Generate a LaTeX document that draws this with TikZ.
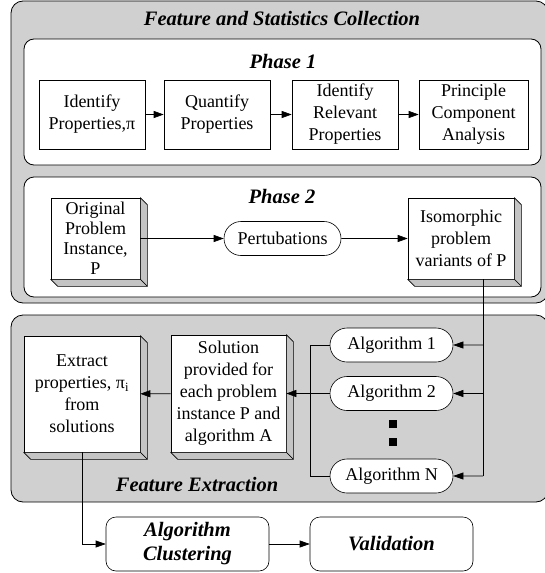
\documentclass[tikz,border=0pt]{standalone}
\usepackage{fontspec}
\setmainfont{Liberation Serif}
\usetikzlibrary{arrows.meta,shapes.misc}

\definecolor{panelgray}{RGB}{208,208,208}
\definecolor{facegray}{RGB}{196,196,196}
\newcommand{\bodyfont}{\fontsize{18}{22}\selectfont}
\newcommand{\headfont}{\fontsize{20.5}{24}\selectfont\bfseries\itshape}

\tikzset{
  panel/.style={draw,line width=0.8pt,fill=panelgray,rounded corners=12pt},
  phasebox/.style={draw,line width=0.8pt,fill=white,rounded corners=10pt},
  heading/.style={font=\headfont,inner sep=0pt},
  procbox/.style={draw,fill=white,line width=0.6pt,align=center,inner sep=0pt,font=\bodyfont},
  face/.style={draw,fill=facegray,line width=0.6pt,line join=round},
  pill/.style={draw,fill=white,line width=0.6pt,rounded rectangle,inner sep=0pt,font=\bodyfont,minimum height=34pt},
  stagebox/.style={draw,fill=white,line width=0.6pt,rounded corners=10pt,align=center,inner sep=0pt,font=\headfont,minimum width=163pt,minimum height=54pt},
  dot/.style={fill=black,inner sep=0pt,minimum size=8pt},
  flow/.style={-{Triangle[length=10pt,width=7pt]},line width=0.6pt},
}

\begin{document}
\begin{tikzpicture}[x=1pt,y=-1pt]
\useasboundingbox (0,0) rectangle (544,573);

\draw[panel] (11,1) rectangle (548,303);
\draw[panel] (11,315) rectangle (548,502);
\draw[phasebox] (24,39) rectangle (541,165);
\draw[phasebox] (24,177) rectangle (541,297);

\node[heading] (fsc) at (282,19) {Feature and Statistics Collection};
\node[heading] (ph1) at (283,61) {Phase 1};
\node[heading] (ph2) at (282,196) {Phase 2};
\node[heading] (fex) at (197,485) {Feature Extraction};

% phase 1
\node[procbox,minimum width=106pt,minimum height=69pt] (idp) at (92,114.5) {Identify\\Properties,π};
\node[procbox,minimum width=106pt,minimum height=69pt] (qp) at (217,114.5) {Quantify\\Properties};
\node[procbox,minimum width=106pt,minimum height=69pt] (irp) at (345,114.5) {Identify\\Relevant\\Properties};
\node[procbox,minimum width=109pt,minimum height=69pt] (pca) at (473.5,114.5) {Principle\\Component\\Analysis};

% phase 2
\node[procbox,minimum width=89pt,minimum height=81pt,font=\fontsize{18}{20}\selectfont] (orig) at (95.5,238.5) {Original\\Problem\\Instance,\\P};
\node[pill,minimum width=117pt] (pert) at (282.5,238.5) {Pertubations};
\node[procbox,minimum width=106pt,minimum height=81pt] (iso) at (461,238.5) {Isomorphic\\problem\\variants of P};

% feature extraction
\node[procbox,minimum width=116pt,minimum height=116pt] (extr) at (82,394) {Extract\\properties, π\textsubscript{i}\\from\\solutions};
\node[procbox,minimum width=115pt,minimum height=117pt] (soln) at (228.5,393.5) {Solution\\provided for\\each problem\\instance P and\\algorithm A};
\node[pill,minimum width=123pt] (alg1) at (391.5,345) {Algorithm 1};
\node[pill,minimum width=123pt] (alg2) at (391.5,393.5) {Algorithm 2};
\node[pill,minimum width=123pt] (algN) at (391.5,476) {Algorithm N};
\node[dot] (d1) at (393,424) {};
\node[dot] (d2) at (393,442) {};

\node[stagebox] (clus) at (187.5,544) {Algorithm\\Clustering};
\node[stagebox] (valid) at (391.5,544) {Validation};

\foreach \n in {orig,iso,extr,soln}
{
 \draw[face] (\n.north east) -- ++(7,7) -- ([shift={(7,7)}]\n.south east) -- (\n.south east) -- cycle;
 \draw[face] (\n.south west) -- ++(7,7) -- ([shift={(7,7)}]\n.south east) -- (\n.south east) -- cycle;
}

\draw[flow] (idp) -- (qp);
\draw[flow] (qp) -- (irp);
\draw[flow] (irp) -- (pca);
\draw[flow] (orig) -- (pert);
\draw[flow] (pert) -- (iso);

\coordinate (trunk) at (483,476);
\coordinate (fork) at (310,476);
\draw[line width=0.6pt] (iso.south -| trunk) -- (trunk);
\draw[flow] (trunk) -- (algN);
\draw[flow] (alg1.east -| trunk) -- (alg1);
\draw[flow] (alg2.east -| trunk) -- (alg2);
\draw[line width=0.6pt] (alg1) -| (fork) -- (algN);
\draw[flow] (alg2) -- (soln);
\draw[flow] (soln) -- (extr);
\draw[flow] (extr) |- (clus);
\draw[flow] (clus) -- (valid);

\end{tikzpicture}
\end{document}
